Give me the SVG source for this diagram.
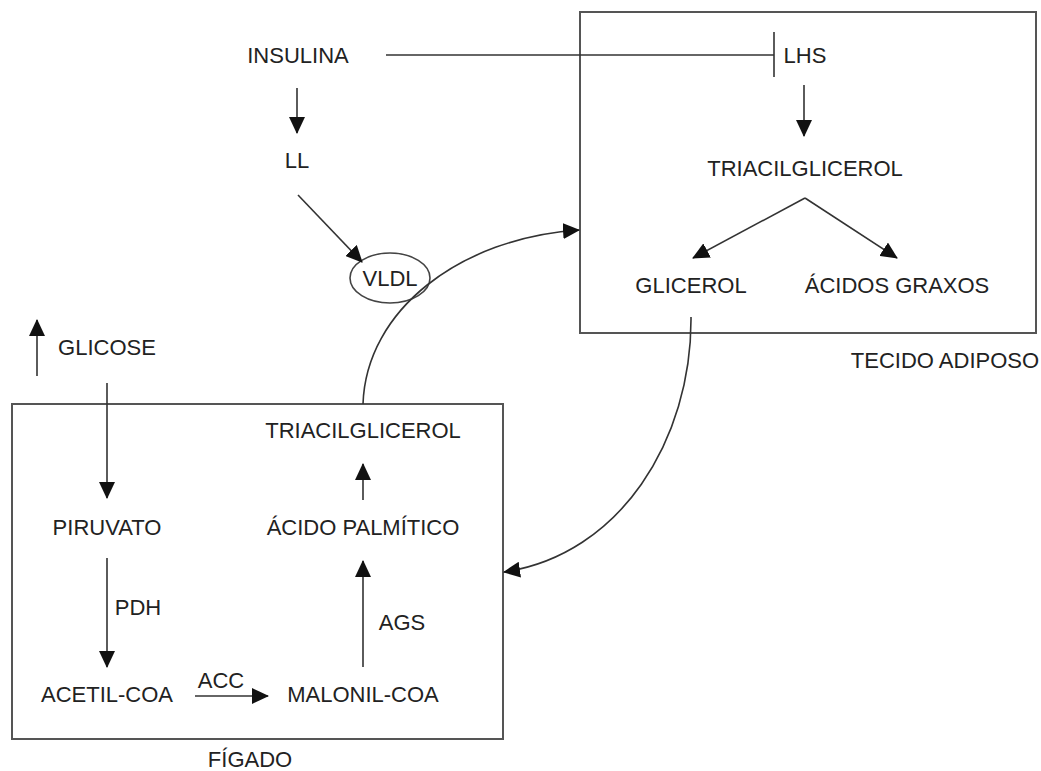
<svg xmlns="http://www.w3.org/2000/svg" width="1041" height="771" viewBox="0 0 1041 771">
<style>
text{font-family:"Liberation Sans",Arial,sans-serif;font-size:22px;fill:#222;text-anchor:middle}
.box{fill:none;stroke:#555;stroke-width:2}
.ln{fill:none;stroke:#333;stroke-width:1.6}
.arr{fill:none;stroke:#333;stroke-width:1.6;marker-end:url(#ah)}
</style>
<defs>
<marker id="ah" markerWidth="18" markerHeight="16" refX="16" refY="8" orient="auto" markerUnits="userSpaceOnUse">
<path d="M0,0 L17,8 L0,16 Z" fill="#111"/>
</marker>
</defs>
<rect width="1041" height="771" fill="#fff"/>
<g id="tecido-adiposo">
<rect class="box" x="580" y="12" width="456" height="321"/>
<text x="945" y="368">TECIDO ADIPOSO</text>
</g>
<g id="figado">
<rect class="box" x="12" y="404" width="491" height="335"/>
<text x="250" y="767">FÍGADO</text>
</g>
<g id="insulina"><text x="298" y="63">INSULINA</text></g>
<g id="lhs"><text x="805" y="63">LHS</text></g>
<g id="ll"><text x="297" y="168">LL</text></g>
<g id="vldl">
<ellipse cx="390" cy="278" rx="40" ry="25" fill="none" stroke="#444" stroke-width="1.6"/>
<text x="390" y="286">VLDL</text>
</g>
<g id="tag-adiposo"><text x="805" y="176">TRIACILGLICEROL</text></g>
<g id="glicerol"><text x="691" y="293">GLICEROL</text></g>
<g id="acidos-graxos"><text x="897" y="293">ÁCIDOS GRAXOS</text></g>
<g id="glicose"><text x="107" y="355">GLICOSE</text></g>
<g id="piruvato"><text x="107" y="535">PIRUVATO</text></g>
<g id="tag-figado"><text x="363" y="438">TRIACILGLICEROL</text></g>
<g id="acido-palmitico"><text x="363" y="535">ÁCIDO PALMÍTICO</text></g>
<g id="acetil-coa"><text x="107" y="702">ACETIL-COA</text></g>
<g id="malonil-coa"><text x="363" y="702">MALONIL-COA</text></g>
<g id="connectors">
<path class="ln" d="M386,55 H774"/>
<path class="ln" d="M774,32 V77" stroke-width="2.4"/>
<path class="arr" d="M297,88 V133"/>
<path class="arr" d="M298,195 L362,262"/>
<path class="arr" d="M804,85 V136"/>
<path class="arr" d="M805,198 L693,258"/>
<path class="arr" d="M805,198 L897,258"/>
<path class="arr" d="M363,404 C366,310 460,238 579,230"/>
<path class="arr" d="M691,317 C692,440 620,555 504,572"/>
<path class="arr" d="M37,376 V320"/>
<path class="arr" d="M107,383 V498"/>
<path class="arr" d="M363,500 V464"/>
<path class="arr" d="M107,558 V667"/>
<text x="138" y="615">PDH</text>
<path class="arr" d="M195,696 H268"/>
<text x="221" y="688">ACC</text>
<path class="arr" d="M363,667 V561"/>
<text x="402" y="630">AGS</text>
</g>
</svg>
